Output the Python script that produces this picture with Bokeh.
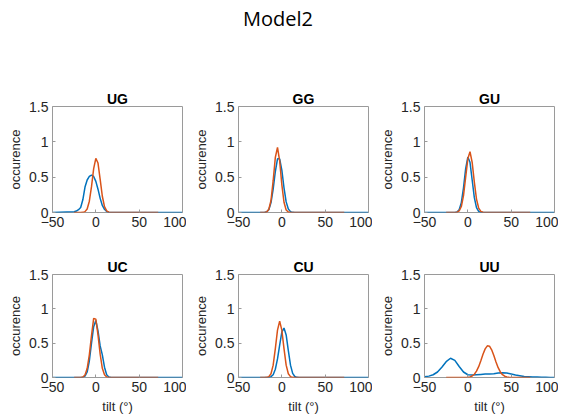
from bokeh.plotting import figure
from bokeh.layouts import gridplot, column
from bokeh.models import Div, Range1d, FixedTicker, NumeralTickFormatter
from bokeh.embed import file_html
from bokeh.resources import INLINE

# ---------------- data ----------------
titles = ["UG", "GG", "GU", "UC", "CU", "UU"]
x_ticks = [-50, 0, 50, 100]
y_ticks = [0, 0.5, 1, 1.5]

blue_x = [-50, -25, -22.5, -20, -17.5, -15, -12.5, -10, -7.5, -5, -2.5, 0,
          2.5, 5, 7.5, 10, 12.5, 15, 17.5, 20, 100]
orange_x = [-25, -22.5, -20, -17.5, -15, -12.5, -10, -7.5, -5, -2.5, 0,
            2.5, 5, 7.5, 10, 12.5, 15, 17.5, 20, 72]

ug_blue = [0, 0.01, 0.02, 0.04, 0.07, 0.18, 0.36, 0.46, 0.51, 0.53, 0.51, 0.44,
           0.33, 0.2, 0.1, 0.045, 0.015, 0.003, 0, 0, 0]
ug_orange = [0, 0, 0, 0, 0.002, 0.012, 0.05, 0.16, 0.365, 0.62, 0.765,
             0.70, 0.47, 0.23, 0.083, 0.022, 0.004, 0, 0, 0]

gg_blue = [0, 0, 0, 0, 0.01, 0.04, 0.14, 0.33, 0.58, 0.76, 0.76, 0.60,
           0.35, 0.15, 0.05, 0.012, 0.002, 0, 0, 0, 0]
gg_orange = [0, 0, 0.001, 0.008, 0.046, 0.17, 0.45, 0.78, 0.92, 0.73, 0.395,
             0.145, 0.036, 0.006, 0, 0, 0, 0, 0, 0]

gu_blue = [0, 0, 0, 0, 0, 0.001, 0.008, 0.04, 0.14, 0.35, 0.62, 0.785,
           0.71, 0.46, 0.21, 0.069, 0.016, 0.002, 0, 0, 0]
gu_orange = [0, 0, 0, 0, 0, 0.004, 0.022, 0.085, 0.24, 0.50, 0.76,
             0.86, 0.71, 0.43, 0.19, 0.063, 0.015, 0.003, 0, 0]

uc_blue = [0, 0, 0, 0, 0.001, 0.005, 0.02, 0.08, 0.24, 0.50, 0.74, 0.83,
           0.68, 0.46, 0.33, 0.15, 0.04, 0.008, 0, 0, 0]
uc_orange = [0, 0, 0, 0.001, 0.008, 0.037, 0.13, 0.33, 0.61, 0.86, 0.85,
             0.62, 0.34, 0.134, 0.039, 0.008, 0.001, 0, 0, 0]

cu_blue = [0, 0, 0, 0, 0, 0.003, 0.012, 0.04, 0.12, 0.27, 0.47, 0.66,
           0.72, 0.62, 0.39, 0.18, 0.06, 0.015, 0.002, 0, 0]
cu_orange = [0, 0, 0, 0.002, 0.012, 0.055, 0.18, 0.42, 0.69, 0.82, 0.69,
             0.42, 0.18, 0.055, 0.012, 0.002, 0, 0, 0, 0]

uu_blue_x = [-50, -45, -40, -35, -30, -25, -20, -15, -10, -5, 0, 5, 10, 15, 20,
             25, 30, 35, 40, 45, 50, 55, 60, 65, 70, 75, 80, 85, 90, 95, 100]
uu_blue = [0.01, 0.02, 0.04, 0.08, 0.15, 0.23, 0.28, 0.25, 0.16, 0.08, 0.04,
           0.035, 0.04, 0.045, 0.05, 0.05, 0.055, 0.065, 0.07, 0.065, 0.05,
           0.035, 0.025, 0.015, 0.012, 0.008, 0.006, 0.004, 0.003, 0.001, 0]
uu_orange_x = [-25, -2.5, 0, 2.5, 5, 7.5, 10, 12.5, 15, 17.5, 20, 22.5, 25,
               27.5, 30, 32.5, 35, 37.5, 40, 42.5, 45, 47.5, 50, 72]
uu_orange = [0, 0, 0.003, 0.009, 0.022, 0.048, 0.092, 0.158, 0.245, 0.338,
             0.417, 0.461, 0.456, 0.403, 0.319, 0.226, 0.143, 0.081, 0.041,
             0.019, 0.008, 0.003, 0.001, 0]

series = [
    (blue_x, ug_blue, orange_x, ug_orange),
    (blue_x, gg_blue, orange_x, gg_orange),
    (blue_x, gu_blue, orange_x, gu_orange),
    (blue_x, uc_blue, orange_x, uc_orange),
    (blue_x, cu_blue, orange_x, cu_orange),
    (uu_blue_x, uu_blue, uu_orange_x, uu_orange),
]

BLUE = "#0072BD"
ORANGE = "#D95319"
GREY = "#9a9a9a"


def make_panel(idx):
    top_row = idx < 3
    h = 166 if top_row else 172
    p = figure(width=186, height=h, x_range=Range1d(-50, 100), y_range=Range1d(0, 1.5),
               output_backend="svg", toolbar_location=None, title=titles[idx],
               min_border_left=52, min_border_right=4,
               min_border_top=28 if top_row else 30,
               min_border_bottom=32 if top_row else 36)
    bx, by, ox, oy = series[idx]
    p.line(bx, by, line_color=BLUE, line_width=1.5)
    p.line(ox, oy, line_color=ORANGE, line_width=1.5)

    p.title.align = "center"
    p.title.text_font = "Liberation Sans"
    p.title.text_font_size = "14px"
    p.title.text_font_style = "bold"
    p.title.text_color = "#000000"
    p.title.standoff = 0

    p.xgrid.visible = False
    p.ygrid.visible = False
    p.outline_line_color = GREY
    p.outline_line_width = 1
    p.background_fill_color = "white"
    p.border_fill_color = "white"

    p.xaxis.ticker = FixedTicker(ticks=x_ticks)
    p.yaxis.ticker = FixedTicker(ticks=y_ticks)
    p.yaxis.formatter = NumeralTickFormatter(format="0.[0]")
    for ax in (p.xaxis, p.yaxis):
        ax.axis_line_color = None
        ax.major_tick_in = 3
        ax.major_tick_out = 0
        ax.major_tick_line_color = GREY
        ax.minor_tick_line_color = None
        ax.major_label_text_font = "Liberation Sans"
        ax.major_label_text_font_size = "14px"
        ax.major_label_text_color = "#262626"
        ax.major_label_standoff = 4
        ax.axis_label_text_font = "Liberation Sans"
        ax.axis_label_text_font_size = "13px"
        ax.axis_label_text_font_style = "normal"
        ax.axis_label_text_color = "#262626"
        ax.axis_label_standoff = 3
    p.yaxis.axis_label = "occurence"
    if not top_row:
        p.xaxis.axis_label = "tilt (°)"
        p.xaxis.axis_label_standoff = 4
    return p


plots = [make_panel(i) for i in range(6)]
grid = gridplot([plots[0:3], plots[3:6]], toolbar_location=None)

header = Div(text="Model2", width=556, height=78, margin=(0, 0, 0, 0),
             styles={"font-family": "Open Sans", "font-size": "20px",
                     "text-align": "center", "color": "#000000", "width": "556px",
                     "padding-top": "5px"})

layout = column(header, grid, spacing=0)

open("out.html", "w").write(file_html(layout, INLINE))
